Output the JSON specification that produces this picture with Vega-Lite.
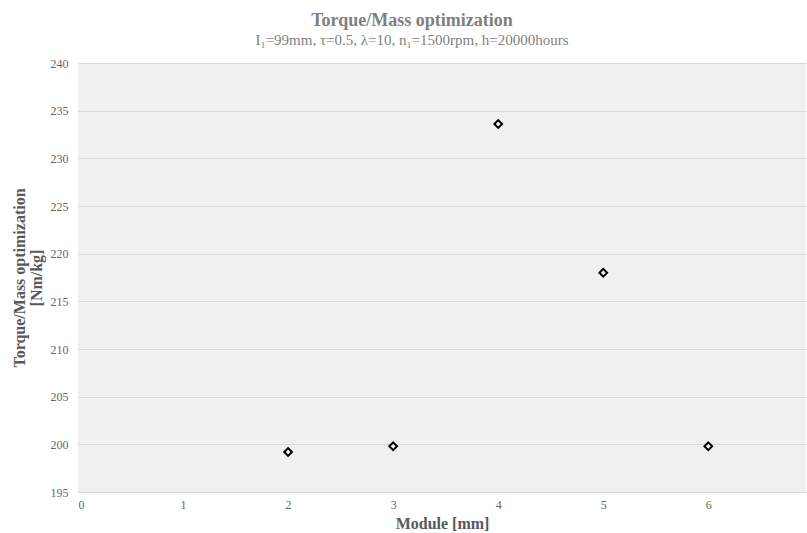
{
  "$schema": "https://vega.github.io/schema/vega-lite/v6.json",
  "width": 728,
  "height": 429,
  "autosize": "none",
  "padding": {"left": 78, "top": 63, "right": 1, "bottom": 41},
  "background": "#ffffff",
  "config": {
    "font": "Liberation Serif",
    "view": {"fill": "#f0f0f0", "stroke": null}
  },
  "title": {
    "text": "Torque/Mass optimization",
    "subtitle": "I₁=99mm, τ=0.5, λ=10, n₁=1500rpm, h=20000hours",
    "anchor": "middle",
    "frame": "group",
    "dx": -30,
    "offset": 9,
    "font": "Liberation Serif",
    "fontSize": 18,
    "fontWeight": "bold",
    "color": "#7f7f7f",
    "subtitleFont": "Liberation Serif",
    "subtitleFontSize": 15,
    "subtitleColor": "#7f7f7f",
    "subtitlePadding": 3
  },
  "data": {
    "values": [
      {"module": 2, "ratio": 199.2},
      {"module": 3, "ratio": 199.8},
      {"module": 4, "ratio": 233.6},
      {"module": 5, "ratio": 218.0},
      {"module": 6, "ratio": 199.8}
    ]
  },
  "mark": {
    "type": "point",
    "shape": "diamond",
    "size": 60,
    "filled": false,
    "stroke": "#000000",
    "strokeWidth": 2,
    "opacity": 1
  },
  "encoding": {
    "x": {
      "field": "module",
      "type": "quantitative",
      "scale": {"domain": [0, 6.93], "nice": false, "zero": false},
      "axis": {
        "title": "Module [mm]",
        "values": [0, 1, 2, 3, 4, 5, 6],
        "format": "d",
        "grid": false,
        "domain": false,
        "ticks": false,
        "labelFont": "Liberation Serif",
        "labelFontSize": 12,
        "labelColor": "#666666",
        "labelPadding": 7,
        "titleFont": "Liberation Serif",
        "titleFontSize": 16,
        "titleFontWeight": "bold",
        "titleColor": "#595959",
        "titlePadding": 5
      }
    },
    "y": {
      "field": "ratio",
      "type": "quantitative",
      "scale": {"domain": [195, 240], "nice": false, "zero": false},
      "axis": {
        "title": ["Torque/Mass optimization", "[Nm/kg]"],
        "values": [195, 200, 205, 210, 215, 220, 225, 230, 235, 240],
        "grid": true,
        "gridColor": "#d9d9d9",
        "gridWidth": 1,
        "domain": false,
        "ticks": false,
        "labelFont": "Liberation Serif",
        "labelFontSize": 12,
        "labelColor": "#666666",
        "labelPadding": 10,
        "titleFont": "Liberation Serif",
        "titleFontSize": 16,
        "titleFontWeight": "bold",
        "titleColor": "#595959",
        "titlePadding": 6,
        "titleLineHeight": 17
      }
    }
  }
}
